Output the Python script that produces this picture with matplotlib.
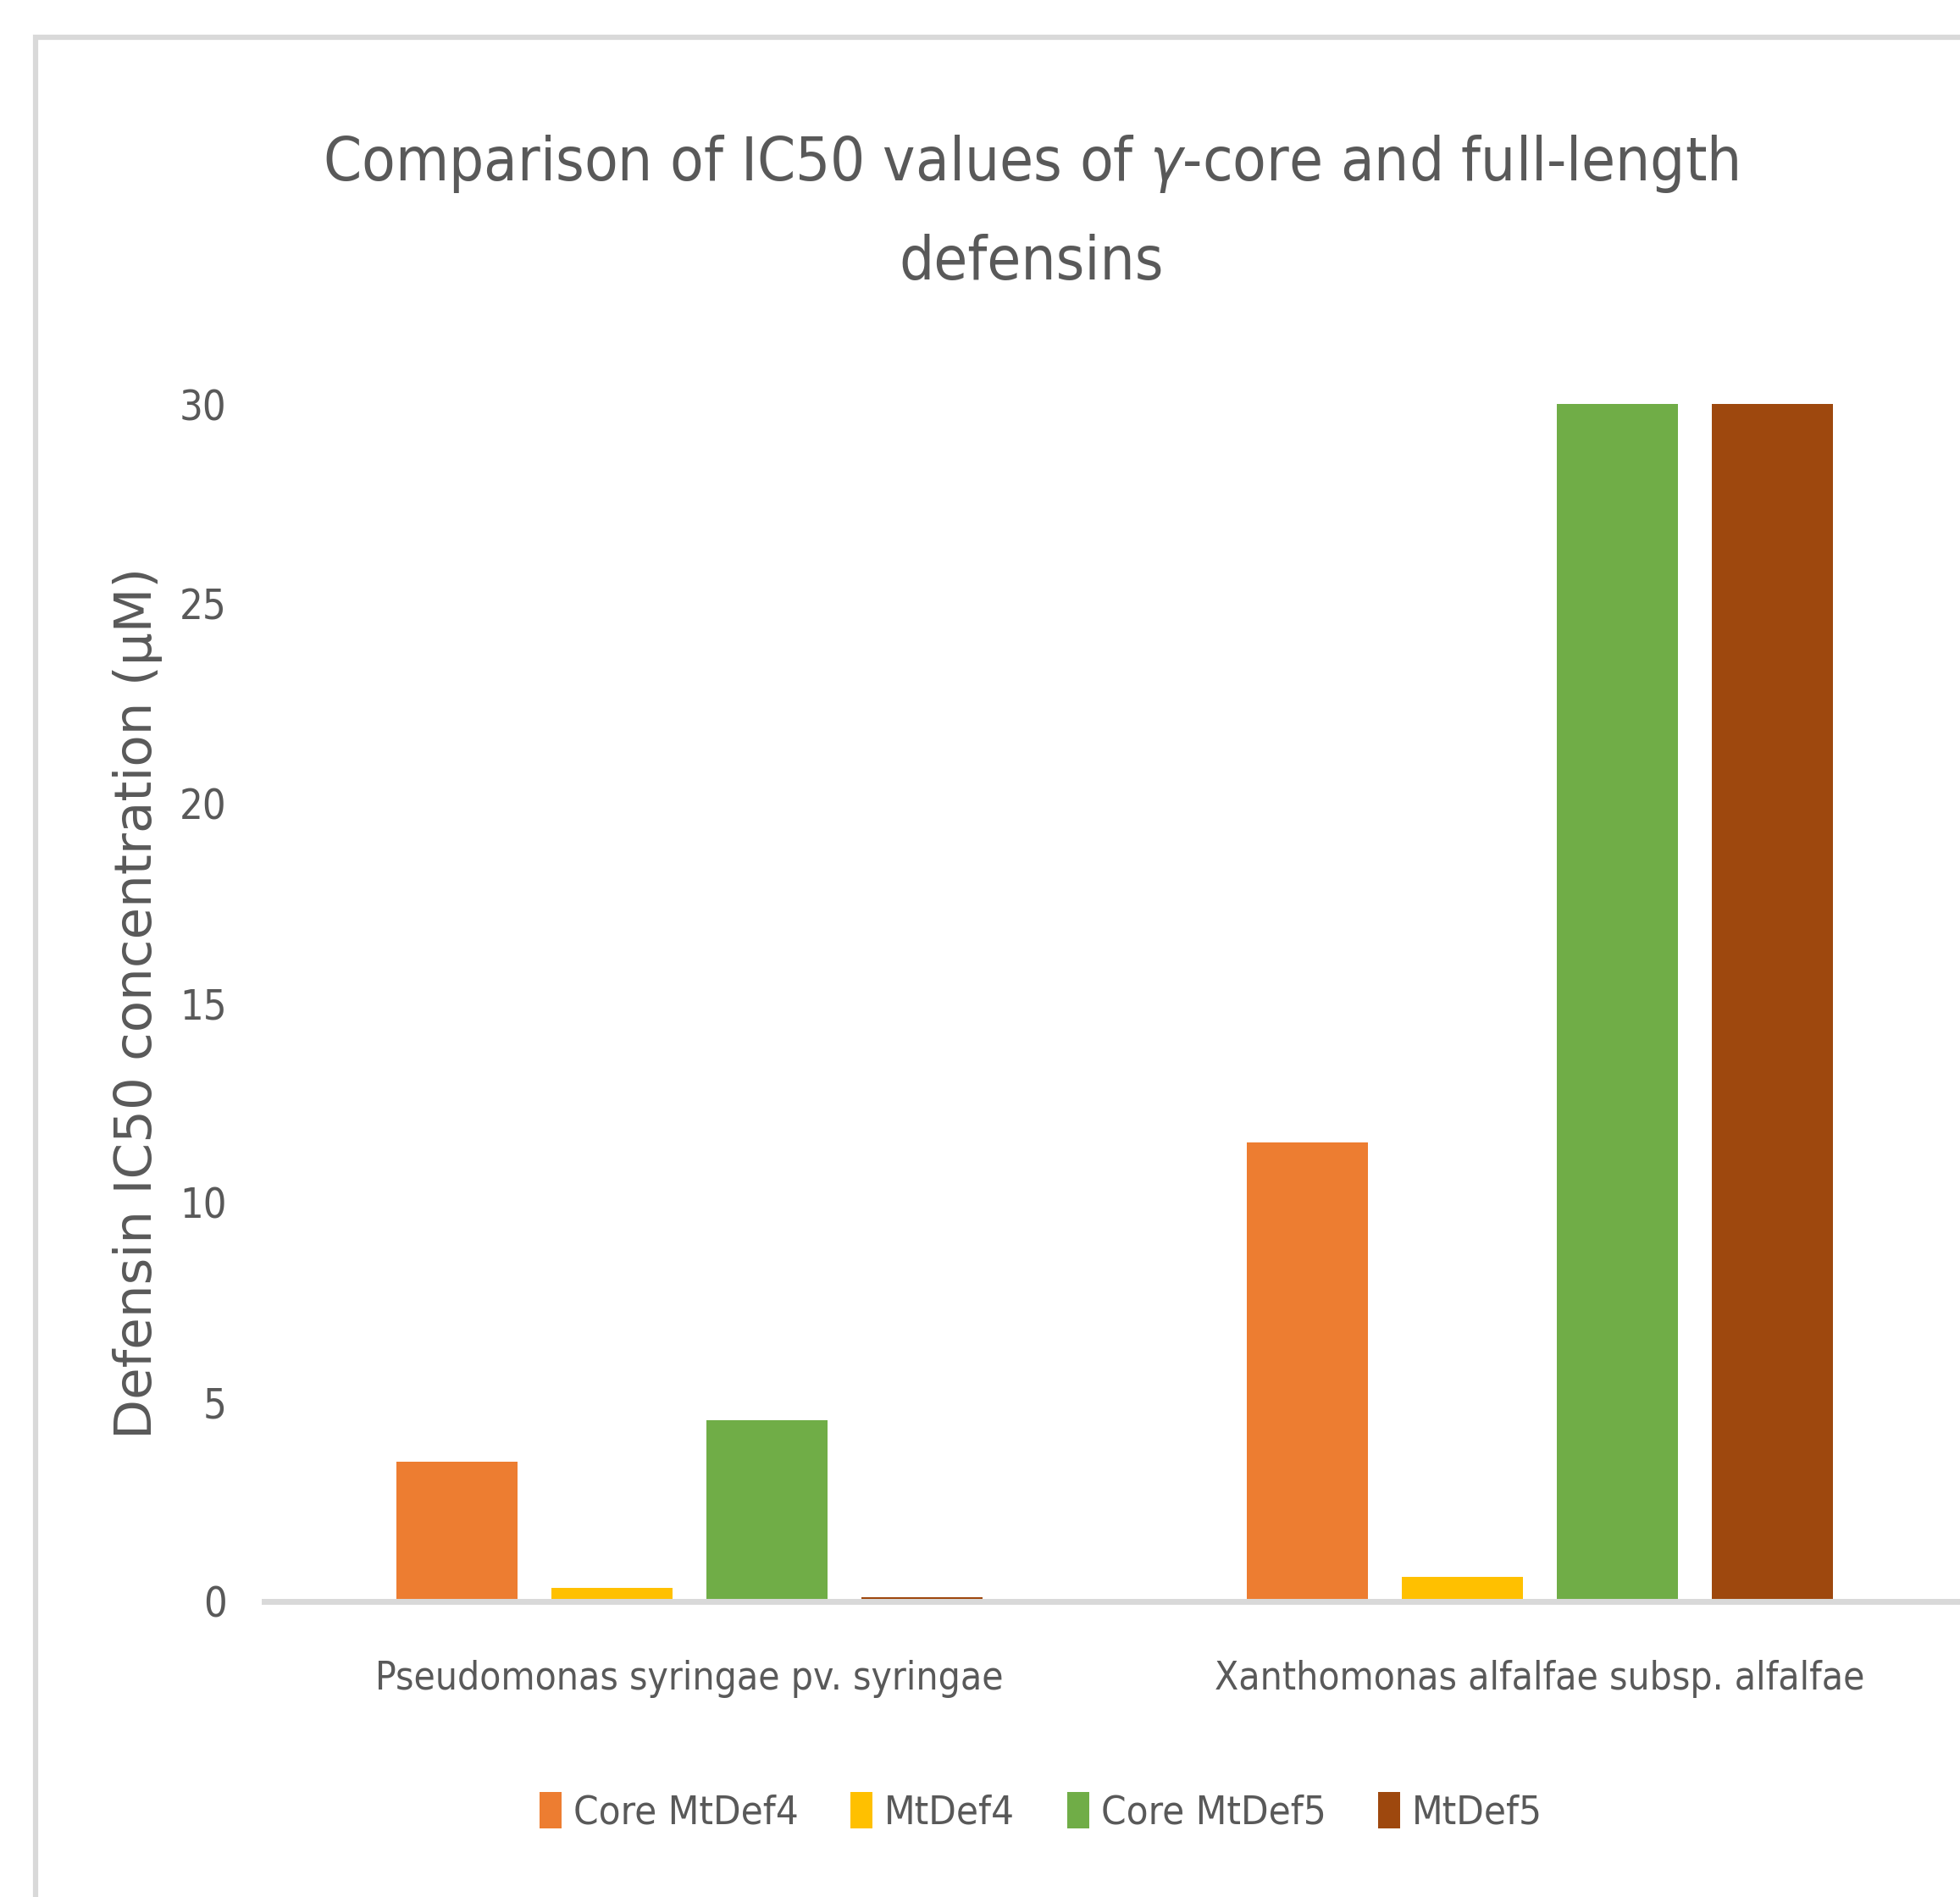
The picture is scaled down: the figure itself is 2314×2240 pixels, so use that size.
import numpy as np
import matplotlib
matplotlib.use("Agg")
import matplotlib.pyplot as plt
from matplotlib.patches import Rectangle

# IC50 values (uM) per strain and peptide
strains = ["Pseudomonas syringae pv. syringae", "Xanthomonas alfalfae subsp. alfalfae"]
series = ["Core MtDef4", "MtDef4", "Core MtDef5", "MtDef5"]
core_mtdef4 = [3.5, 11.5]
mtdef4 = [0.33, 0.62]
core_mtdef5 = [4.55, 30.0]
mtdef5 = [0.1, 30.0]
yticks = [0, 5, 10, 15, 20, 25, 30]

colors = ["#ED7D31", "#FFC000", "#70AD47", "#9E480E"]
text_gray = "#595959"
line_gray = "#D9D9D9"

plt.rcParams["font.family"] = ["Liberation Sans Narrow", "DejaVu Sans"]
plt.rcParams["font.stretch"] = "condensed"

fig = plt.figure(figsize=(23.14, 22.40), dpi=100)
fig.patch.set_facecolor("white")

# chart frame: only top and left edges fall inside the canvas
fig.patches.append(Rectangle((42 / 2314, -0.1), 1.2, 1 - 44 / 2240 + 0.1,
                             transform=fig.transFigure, fill=False,
                             edgecolor=line_gray, linewidth=4.5))

ax = fig.add_axes([312 / 2314, (2240 - 1891) / 2240, 2008 / 2314, 1414 / 2240])
ax.set_facecolor("none")

x = np.arange(len(strains))
width = 0.1426
step = 0.1823
data = [core_mtdef4, mtdef4, core_mtdef5, mtdef5]
for i, (name, vals) in enumerate(zip(series, data)):
    ax.bar(x + (i - 1.5) * step, vals, width, color=colors[i], label=name, zorder=2)

ax.set_xlim(-0.5, 1.5)
ax.set_ylim(0, 30)
ax.set_yticks(yticks)
ax.set_yticklabels([str(v) for v in yticks])
ax.set_xticks(x)
ax.set_xticklabels(strains)
for s in ["top", "right", "left"]:
    ax.spines[s].set_visible(False)
ax.spines["bottom"].set_color(line_gray)
ax.spines["bottom"].set_linewidth(5)
ax.spines["bottom"].set_zorder(3)
ax.tick_params(axis="y", length=0, pad=32, labelsize=35, labelcolor=text_gray)
ax.tick_params(axis="x", length=0, pad=50, labelsize=33, labelcolor=text_gray)

ax.set_ylabel("Defensin IC50 concentration (\u03bcM)", fontsize=44, color=text_gray,
              family="DejaVu Sans", stretch="normal", va="center")
ax.yaxis.set_label_coords(-0.0747, 0.5)

fig.text(0.526, 0.888, "Comparison of IC50 values of $\\gamma$-core and full-length\ndefensins",
         ha="center", va="center", fontsize=52, color=text_gray, linespacing=1.85)

leg = fig.legend(loc="center", bbox_to_anchor=(1229 / 2314, 1 - 2140 / 2240), ncol=4,
                 frameon=False, fontsize=34, handlelength=0.55, handleheight=1.0,
                 handletextpad=0.3, columnspacing=1.3)
for t in leg.get_texts():
    t.set_color(text_gray)

fig.savefig("out.png", dpi=100, facecolor="white")
